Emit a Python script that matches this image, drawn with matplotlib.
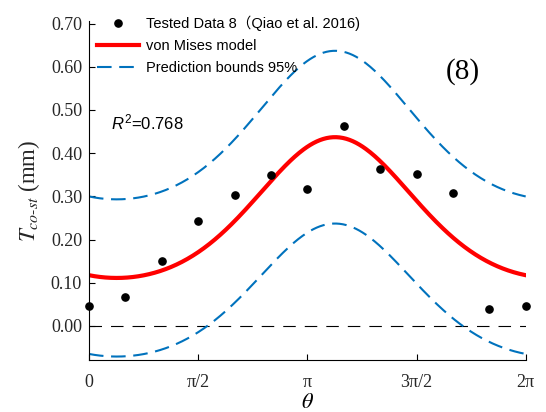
import numpy as np
import matplotlib
matplotlib.use("Agg")
import matplotlib.pyplot as plt
from matplotlib.lines import Line2D

plt.rcParams['lines.scale_dashes'] = False
plt.rcParams['mathtext.fontset'] = 'custom'
plt.rcParams['mathtext.rm'] = 'Liberation Sans'
plt.rcParams['mathtext.it'] = 'Liberation Sans:italic'

# measured data (angle in units of pi/6)
theta_steps = [0, 1, 2, 3, 4, 5, 6, 7, 8, 9, 10, 11, 12]
t_measured = [0.046, 0.066, 0.150, 0.244, 0.304, 0.349, 0.317, 0.462,
              0.364, 0.352, 0.307, 0.039, 0.046]

# fitted von Mises model: peak value, trough value, concentration, mean direction
vm_peak = 0.437
vm_trough = 0.111
vm_kappa = 0.65
vm_mu = 3.54
# half-width of the 95% prediction band at trough and at peak
band_hw_trough = 0.182
band_hw_peak = 0.200

r_squared = 0.768
panel_tag = "(8)"
xtick_labels = ["0", "π/2", "π", "3π/2", "2π"]
ytick_values = [0.00, 0.10, 0.20, 0.30, 0.40, 0.50, 0.60, 0.70]

theta_pts = np.array(theta_steps) * np.pi / 6
th = np.linspace(0, 2 * np.pi, 400)
shape = (np.exp(vm_kappa * (np.cos(th - vm_mu) - 1)) - np.exp(-2 * vm_kappa)) / (1 - np.exp(-2 * vm_kappa))
fit = vm_trough + (vm_peak - vm_trough) * shape
hw = band_hw_trough + (band_hw_peak - band_hw_trough) * shape

W, H = 546, 412
fig = plt.figure(figsize=(W / 100, H / 100), dpi=100)
ax = fig.add_axes([89 / W, 52 / H, (525.7 - 89) / W, (360 - 21) / H])

blue = '#0072BD'
ax.plot([0, 2 * np.pi], [0, 0], color='black', lw=0.8, dashes=(9, 6.5))
ax.plot(th, fit + hw, color=blue, lw=1.5, dashes=(10.5, 5.5))
ax.plot(th, fit - hw, color=blue, lw=1.5, dashes=(10.5, 5.5))
ax.plot(th, fit, color='red', lw=3)
ax.plot(theta_pts, t_measured, 'o', color='black', ms=5.2, clip_on=False, zorder=5)

ax.set_xlim(0, 2 * np.pi)
ax.set_ylim(-0.079, 0.706)
ax.set_xticks(np.arange(5) * np.pi / 2)
ax.set_xticklabels(xtick_labels)
ax.set_yticks(ytick_values)
ax.set_yticklabels([f"{v:.2f}" for v in ytick_values])
for lab in ax.get_xticklabels() + ax.get_yticklabels():
    lab.set_fontfamily('Liberation Serif')
    lab.set_fontsize(13)
    lab.set_color('#262626')
ax.tick_params(axis='y', direction='in', length=4, width=0.8, pad=5)
ax.tick_params(axis='x', direction='in', length=4, width=0.8, pad=10)
ax.spines['top'].set_visible(False)
ax.spines['right'].set_visible(False)
for s in ('left', 'bottom'):
    ax.spines[s].set_linewidth(0.8)

ax.set_xlabel(r'$\theta$', fontsize=16, math_fontfamily='stix', labelpad=1)
ax.set_ylabel(r'$T_{co\text{-}st}$ (mm)', fontsize=16.5, family='Liberation Serif',
              math_fontfamily='stix', color='#262626', labelpad=6)

fig.text(111 / W, 1 - 122 / H, r'$R^2$=0.768', fontsize=12,
         family='Liberation Sans', va='center', ha='left')
fig.text(463 / W, 1 - 72 / H, panel_tag, fontsize=21, family='Liberation Serif',
         ha='center', va='center')

handles = [
    Line2D([], [], ls='none', marker='o', color='black', ms=5.2),
    Line2D([], [], color='red', lw=3),
    Line2D([], [], color=blue, lw=1.5, dashes=(10.5, 5.5)),
]
labels = ["Tested Data 8（Qiao et al. 2016)", "von Mises model", "Prediction bounds 95%"]
leg = ax.legend(handles, labels, loc='upper left', bbox_to_anchor=(91 / W, 1 - 10 / H),
                bbox_transform=fig.transFigure, frameon=False, handlelength=2.9,
                handletextpad=0.5, labelspacing=0.55, borderaxespad=0,
                prop={'family': ['Liberation Sans', 'Noto Sans CJK SC'], 'size': 10.5})

fig.savefig("out.png", dpi=100)
